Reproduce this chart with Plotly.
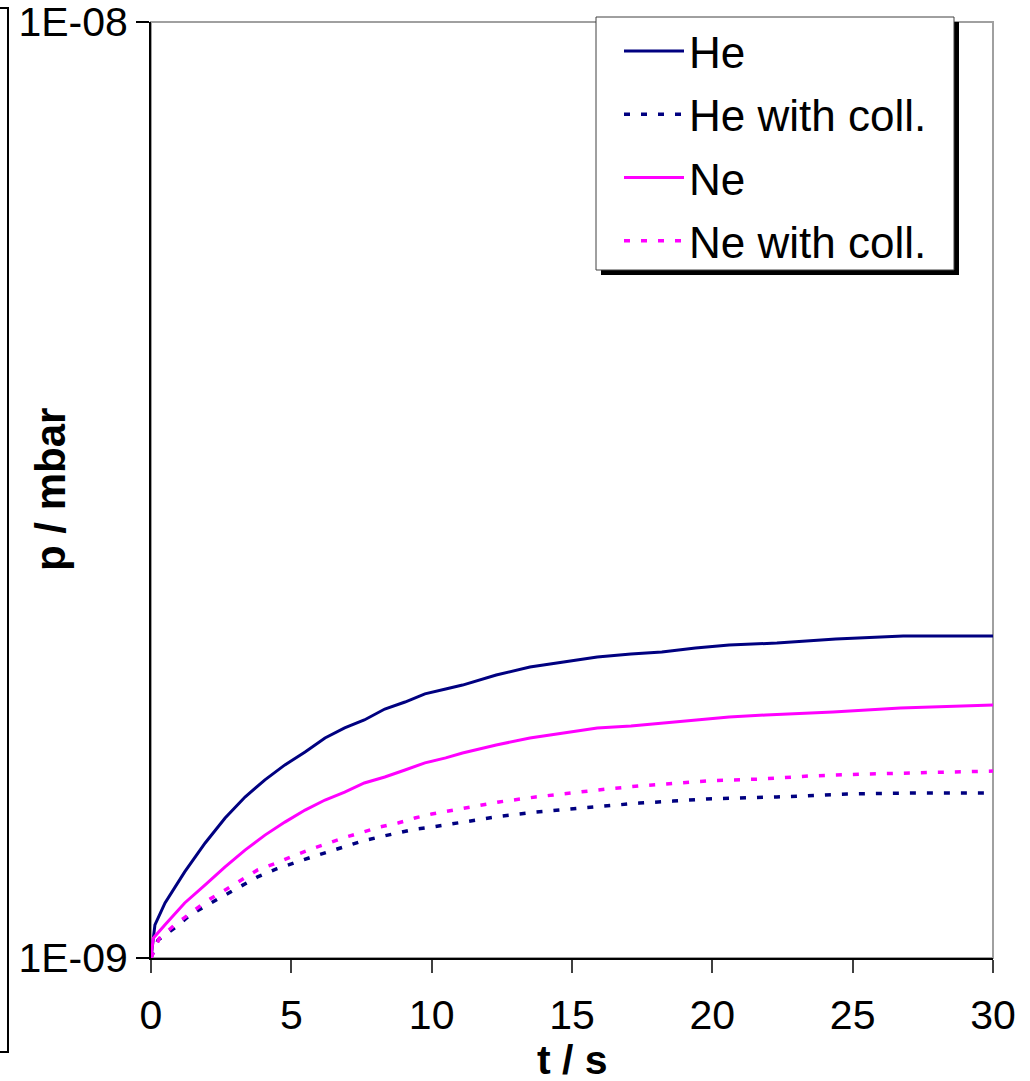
import plotly.graph_objects as go

# ---- data (time in s, pressure in mbar) ----
t_he = [0, 0.14, 0.5, 1.2, 1.93, 2.64, 3.35, 4.06, 4.77, 5.49, 6.2, 6.9, 7.6, 8.33, 9.05, 9.76,
        10.5, 11.1, 12.3, 13.5, 14.7, 15.9, 17.1, 18.2, 19.4, 20.6, 22.3, 24.4, 26.8, 30]
p_he = [1.000, 1.085, 1.145, 1.236, 1.327, 1.411, 1.486, 1.550, 1.608, 1.660, 1.718, 1.761, 1.796,
        1.845, 1.877, 1.915, 1.938, 1.957, 2.006, 2.046, 2.071, 2.097, 2.112, 2.123, 2.144, 2.160,
        2.170, 2.192, 2.208, 2.208]

t_he_coll = [0, 0.25, 0.85, 1.4, 2.0, 2.64, 3.24, 3.8, 4.47, 5.05, 5.73, 6.3, 6.97, 7.55, 8.15, 8.8,
             9.4, 10.0, 11.2, 12.5, 13.7, 14.9, 16.2, 17.4, 18.6, 19.8, 22.3, 24.8, 27.2, 30]
p_he_coll = [1.000, 1.045, 1.077, 1.112, 1.139, 1.168, 1.197, 1.221, 1.245, 1.263, 1.282, 1.298,
             1.317, 1.334, 1.347, 1.360, 1.373, 1.380, 1.397, 1.418, 1.432, 1.442, 1.453, 1.464,
             1.471, 1.479, 1.486, 1.497, 1.501, 1.501]

t_ne = [0, 0.08, 0.5, 1.2, 1.93, 2.64, 3.35, 4.06, 4.77, 5.49, 6.2, 6.9, 7.6, 8.33, 9.05, 9.76,
        10.5, 11.1, 12.3, 13.5, 14.7, 15.9, 17.1, 18.2, 19.4, 20.6, 21.9, 24.3, 26.7, 30]
p_ne = [1.000, 1.050, 1.085, 1.145, 1.197, 1.251, 1.304, 1.353, 1.397, 1.439, 1.475, 1.504, 1.538,
        1.561, 1.588, 1.616, 1.636, 1.656, 1.689, 1.718, 1.739, 1.761, 1.770, 1.783, 1.796, 1.809,
        1.818, 1.832, 1.850, 1.863]

t_ne_coll = [0, 0.3, 0.85, 1.45, 2.03, 2.64, 3.24, 3.8, 4.47, 5.05, 5.73, 6.3, 6.97, 7.55, 8.15, 8.8,
             9.4, 10.0, 11.2, 12.4, 13.7, 14.9, 16.2, 17.4, 18.6, 19.8, 21.7, 23.5, 25.4, 27.2, 30]
p_ne_coll = [1.000, 1.050, 1.085, 1.120, 1.153, 1.182, 1.212, 1.242, 1.263, 1.285, 1.308, 1.327,
             1.347, 1.363, 1.380, 1.394, 1.411, 1.425, 1.446, 1.468, 1.486, 1.501, 1.515, 1.527,
             1.538, 1.546, 1.553, 1.565, 1.572, 1.576, 1.584]

scale = 1e-9  # values above are in units of 1E-09 mbar

x_ticks = [0, 5, 10, 15, 20, 25, 30]
y_ticks = [1e-9, 1e-8]
y_ticktext = ["1E-09", "1E-08"]

NAVY = "#000080"
MAGENTA = "#FF00FF"
FONT = "Liberation Sans, Arial, sans-serif"

# pixel -> paper helpers (plot area: x 151..993, y 22..958)
def px(x):
    return (x - 151) / 842


def py(y):
    return (958 - y) / 936


fig = go.Figure()
series = [
    ("He", t_he, p_he, NAVY, "solid", 3),
    ("He with coll.", t_he_coll, p_he_coll, NAVY, "6px,11px", 3.5),
    ("Ne", t_ne, p_ne, MAGENTA, "solid", 3),
    ("Ne with coll.", t_ne_coll, p_ne_coll, MAGENTA, "6px,11px", 3.5),
]
for name, t, p, col, dash, w in series:
    fig.add_trace(go.Scatter(
        x=t, y=[v * scale for v in p], mode="lines", name=name,
        legendgroup=name,
        line=dict(color=col, width=w, dash=dash),
    ))

fig.update_layout(
    width=1030, height=1081,
    margin=dict(l=151, r=37, t=22, b=123, autoexpand=False),
    paper_bgcolor="white", plot_bgcolor="white",
    font=dict(family=FONT, size=41, color="black"),
    showlegend=True,
    legend=dict(
        x=px(619), y=py(16), xanchor="left", yanchor="top",
        bgcolor="rgba(0,0,0,0)", borderwidth=0,
        font=dict(size=44, family=FONT, color="black"),
        tracegroupgap=3, traceorder="grouped", itemwidth=60,
    ),
    xaxis=dict(
        range=[0, 30], tickvals=x_ticks, ticks="outside", ticklen=13, tickwidth=2,
        tickcolor="#404040", showline=True, linecolor="black", linewidth=2,
        showgrid=False, zeroline=False, tickfont=dict(size=41, family=FONT),
        ticklabelstandoff=7,
    ),
    yaxis=dict(
        type="log", range=[-9, -8], tickvals=y_ticks, ticktext=y_ticktext,
        ticks="outside", ticklen=13, tickwidth=2, tickcolor="black",
        showline=True, linecolor="black", linewidth=2, showgrid=False, zeroline=False,
        tickfont=dict(size=41, family=FONT), ticklabeloverflow="allow",
    ),
    annotations=[
        dict(text="<b>t / s</b>", xref="paper", yref="paper", x=px(572), y=py(1060),
             xanchor="center", yanchor="middle", showarrow=False,
             font=dict(size=41, family=FONT)),
        dict(text="<b>p / mbar</b>", xref="paper", yref="paper", x=px(50), y=py(490),
             xanchor="center", yanchor="middle", showarrow=False, textangle=-90,
             font=dict(size=42, family=FONT)),
    ],
    shapes=[
        # grey frame of plot area (top and right)
        dict(type="rect", xref="paper", yref="paper", x0=0, y0=0, x1=1, y1=1,
             line=dict(color="#A0A0A0", width=2), layer="below"),
        # legend shadow
        dict(type="rect", xref="paper", yref="paper",
             x0=px(601), x1=px(959), y0=py(275), y1=py(22),
             fillcolor="black", line=dict(width=0), layer="above"),
        # legend box
        dict(type="rect", xref="paper", yref="paper",
             x0=px(596), x1=px(954), y0=py(270), y1=py(17),
             fillcolor="white", line=dict(color="#404040", width=1), layer="above"),
        # left bracket
        dict(type="path", xref="paper", yref="paper",
             path="M %f,%f L %f,%f L %f,%f L %f,%f" % (
                 px(0), py(8), px(8), py(8), px(8), py(1052), px(0), py(1052)),
             line=dict(color="black", width=2)),
    ],
)

fig.write_html("out.html")
